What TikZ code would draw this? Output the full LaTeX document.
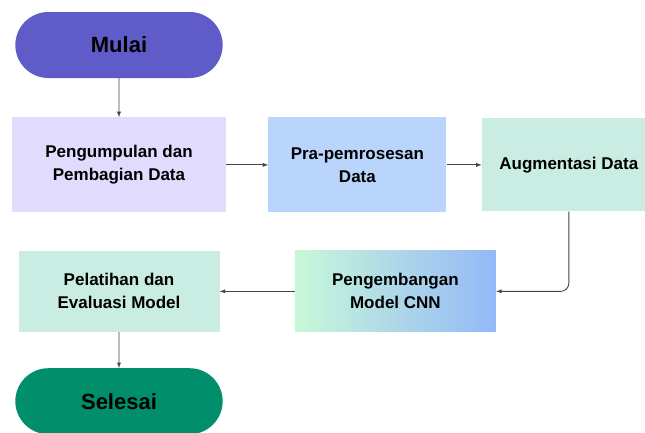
\documentclass[tikz,border=0pt]{standalone}
\usepackage{fontspec}
\setmainfont{Liberation Sans}
\usepackage{tikz}
\usetikzlibrary{shapes,shapes.misc,arrows,positioning}
\definecolor{violet}{HTML}{5F5BC8}
\definecolor{lavender}{HTML}{E1DBFE}
\definecolor{skyblue}{HTML}{B9D5FB}
\definecolor{mint}{HTML}{C9ECE3}
\definecolor{lightgreen}{HTML}{C8F8D8}
\definecolor{cornblue}{HTML}{94B8F8}
\definecolor{emerald}{HTML}{008F6A}
\definecolor{edgegray}{HTML}{444444}
\tikzstyle{terminal} = [rounded rectangle, draw=none, text=black, text centered, font=\bfseries\fontsize{22}{24}\selectfont, minimum width=214pt, minimum height=66pt]
\tikzstyle{process} = [rectangle, draw=none, text=black, align=center, font=\bfseries\fontsize{17}{23}\selectfont, inner sep=0pt]
\tikzstyle{tedge}  = [draw, color=edgegray, line width=0.9pt, >=latex, ->]

\begin{document}
\begin{tikzpicture}[auto, x=1pt, y=1pt]
\useasboundingbox (0,0) rectangle (645,-432);

% start =============================
\node[terminal, fill=violet] (mulai) at (119,-45) {Mulai};

% first row
\node[process, fill=lavender, minimum width=214pt, minimum height=95pt, below=39pt of mulai] (kumpul) {Pengumpulan dan\\Pembagian Data};
\node[process, fill=skyblue, minimum width=178pt, minimum height=95pt, right=42pt of kumpul] (prapros) {Pra-pemrosesan\\Data};
\node[process, fill=mint, minimum width=174pt, minimum height=93pt, right=35pt of prapros] (augmen) {Augmentasi Data};

% second row
\node[process, fill=mint, minimum width=201pt, minimum height=81pt, below=38pt of kumpul] (latih) {Pelatihan dan\\Evaluasi Model};
\node[process, left color=lightgreen, right color=cornblue, minimum width=201pt, minimum height=81pt, right=75pt of latih] (kembang) {Pengembangan\\Model CNN};

% end
\node[terminal, fill=emerald, below=36pt of latih] (selesai) {Selesai};

%edges
\path[tedge] (mulai) -- (kumpul);
\path[tedge] (kumpul) -- (prapros);
\path[tedge] (prapros) -- (augmen);
\path[tedge, rounded corners=8pt] (augmen.south) |- (kembang.east);
\path[tedge] (kembang) -- (latih);
\path[tedge] (latih) -- (selesai);

\end{tikzpicture}
\end{document}
